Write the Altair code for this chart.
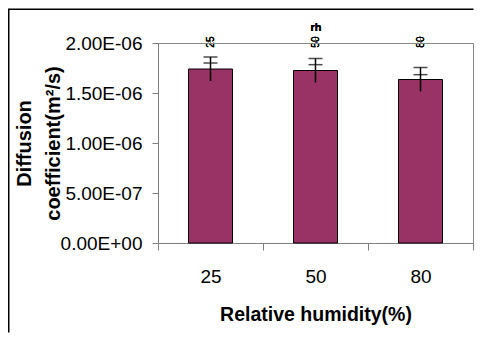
import altair as alt
import pandas as pd

# Data
humidity = ["25", "50", "80"]
diffusion = [1.74e-6, 1.725e-6, 1.635e-6]
error = [0.12e-6, 0.12e-6, 0.12e-6]
y_ticks = [0, 5e-7, 1e-6, 1.5e-6, 2e-6]
y_tick_labels = ["0.00E+00", "5.00E-07", "1.00E-06", "1.50E-06", "2.00E-06"]

df = pd.DataFrame({
    "rh": humidity,
    "D": diffusion,
    "lo": [d - e for d, e in zip(diffusion, error)],
    "hi": [d + e for d, e in zip(diffusion, error)],
})

FONT = "Liberation Sans"
label_expr = "[" + ",".join("'" + s + "'" for s in y_tick_labels) + "][round(datum.value*2e6)]"

x_enc = alt.X(
    "rh:N",
    sort=humidity,
    scale=alt.Scale(paddingInner=0, paddingOuter=0),
    axis=alt.Axis(
        title="Relative humidity(%)",
        labelAngle=0,
        tickBand="extent",
        tickSize=7,
        labelPadding=17,
        labelFontSize=19,
        titleFontSize=19.5,
        titleFontWeight="bold",
        titlePadding=19,
        labelFont=FONT,
        titleFont=FONT,
        labelColor="black",
        titleColor="black",
        domainColor="#7f7f7f",
        tickColor="#7f7f7f",
    ),
)

y_enc = alt.Y(
    "D:Q",
    scale=alt.Scale(domain=[0, 2e-6], nice=False),
    axis=alt.Axis(
        title=["Diffusion", "coefficient(m²/s)"],
        values=y_ticks,
        labelExpr=label_expr,
        grid=False,
        tickSize=6,
        labelPadding=10,
        labelFontSize=19,
        titleFontSize=20,
        titleFontWeight="bold",
        titleLineHeight=29,
        titlePadding=-3,
        labelFont=FONT,
        titleFont=FONT,
        labelColor="black",
        titleColor="black",
        domainColor="#7f7f7f",
        tickColor="#7f7f7f",
    ),
)

base = alt.Chart(df)

bars = base.mark_bar(width=44, color="#993366", stroke="black", strokeWidth=1).encode(
    x=x_enc, y=y_enc
)

err = base.mark_rule(color="black", strokeWidth=1.5).encode(
    x=alt.X("rh:N", sort=humidity), y="lo:Q", y2="hi:Q"
)
cap_hi = base.mark_tick(color="black", thickness=1.5, size=14, orient="horizontal").encode(
    x=alt.X("rh:N", sort=humidity), y="hi:Q"
)
cap_lo = base.mark_tick(color="black", thickness=1.5, size=14, orient="horizontal").encode(
    x=alt.X("rh:N", sort=humidity), y="lo:Q"
)

# Outer chart frame (decoration): one open path along the left and top edges,
# drawn in pixel space (no scale) and kept inside the SVG.
frame_df = pd.DataFrame({
    "fx": [-149.25, -149.25, 315.5],
    "fy": [289.5, -33.75, -33.75],
    "ord": [0, 1, 2],
})
frame = alt.Chart(frame_df).mark_line(color="black", strokeWidth=1.5).encode(
    x=alt.X("fx:Q", scale=None, axis=None),
    y=alt.Y("fy:Q", scale=None, axis=None),
    order="ord:Q",
)

chart = alt.layer(frame, bars, err, cap_hi, cap_lo).resolve_scale(
    x="independent", y="independent"
).properties(
    width=315,
    height=200,
    padding={"left": 150, "top": 35, "right": 1, "bottom": 90},
    autosize=alt.AutoSizeParams(type="none"),
    background="white",
).configure_view(stroke=None)

chart.save("out.html", embed_options={"renderer": "svg", "actions": False})
